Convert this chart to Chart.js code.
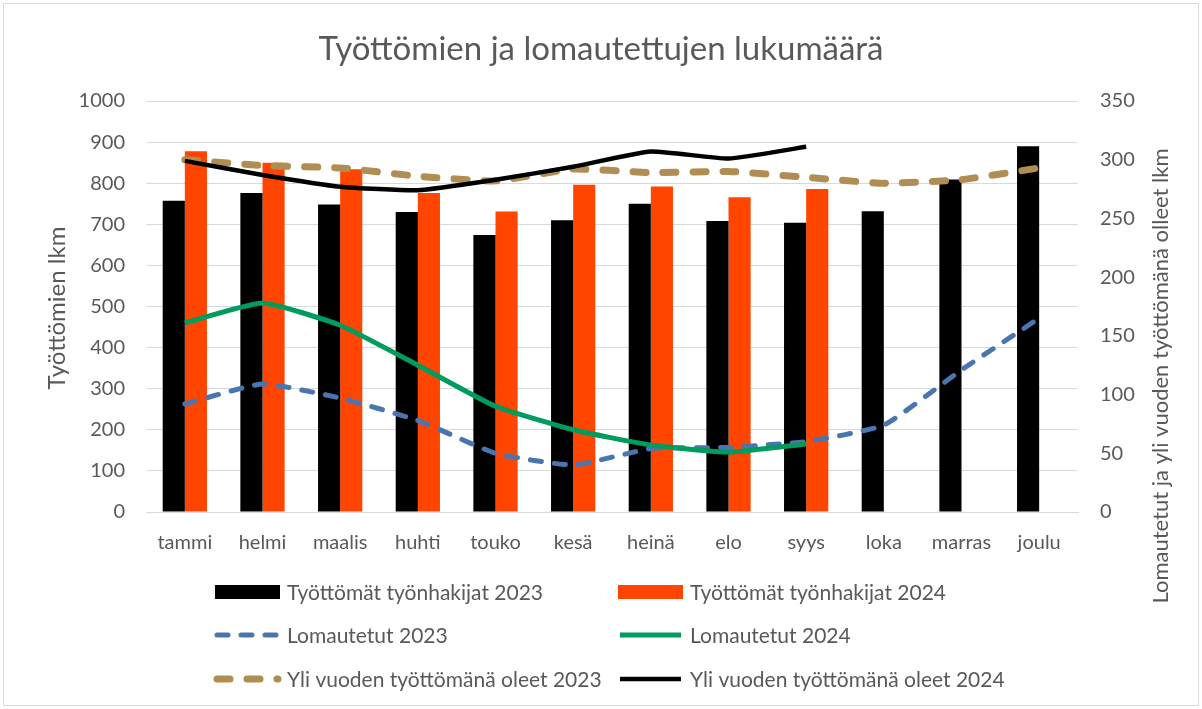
<!DOCTYPE html>
<html>
<head>
<meta charset="utf-8">
<script src="https://cdn.jsdelivr.net/npm/chart.js@4/dist/chart.umd.min.js"></script>
<style>
  html, body { margin: 0; padding: 0; background: #fff; }
  #wrap { width: 1202px; height: 709px; }
</style>
</head>
<body>
<div id="wrap"><canvas id="myChart" width="1202" height="709"></canvas></div>
<script>
// Kuukaudet ja sarjat (luettu kuvasta)
const months = ['tammi', 'helmi', 'maalis', 'huhti', 'touko', 'kesä', 'heinä', 'elo', 'syys', 'loka', 'marras', 'joulu'];
const tyottomat2023 = [757, 776, 748, 730, 674, 710, 750, 708, 704, 732, 809, 890];
const tyottomat2024 = [878, 850, 834, 776, 731, 796, 792, 766, 786, null, null, null];
const lomautetut2023 = [92, 109, 97, 78, 50, 40, 54, 55, 60, 74, 121, 165];
const lomautetut2024 = [161, 178, 159, 125, 90, 70, 57, 51, 58, null, null, null];
const yliVuoden2023 = [300, 295, 293, 286, 282, 292, 289, 290, 285, 280, 283, 293];
const yliVuoden2024 = [299, 287, 277, 274, 283, 294, 307, 301, 311, null, null, null];

const leftTicks = [0, 100, 200, 300, 400, 500, 600, 700, 800, 900, 1000];
const rightTicks = [0, 50, 100, 150, 200, 250, 300, 350];

const FONT = 'Lato, "Open Sans", sans-serif';
const GREY = '#595959';

// Otsikko, akselien otsikot, selite ja kehys piirretään itse
const decorations = {
    id: 'decorations',
    afterDraw(chart) {
        const ctx = chart.ctx;
        ctx.save();

        // kehys
        ctx.strokeStyle = '#d9d9d9';
        ctx.lineWidth = 1;
        ctx.strokeRect(3.5, 3.5, 1195, 702);

        ctx.fillStyle = GREY;
        ctx.textAlign = 'center';
        ctx.textBaseline = 'middle';
        ctx.font = '33px ' + FONT;
        ctx.fillText('Työttömien ja lomautettujen lukumäärä', 601, 49);

        ctx.font = '24px ' + FONT;
        ctx.save();
        ctx.translate(57, 308);
        ctx.rotate(-Math.PI / 2);
        ctx.fillText('Työttömien lkm', 0, 0);
        ctx.restore();

        ctx.font = '22px ' + FONT;
        ctx.save();
        ctx.translate(1161, 376);
        ctx.rotate(-Math.PI / 2);
        ctx.fillText('Lomautetut ja yli vuoden työttömänä olleet lkm', 0, 0);
        ctx.restore();

        // selite kahdessa sarakkeessa
        const colX = [215, 618];
        const rowY = [592, 635, 679];
        ctx.font = '21px ' + FONT;
        ctx.textAlign = 'left';
        chart.data.datasets.forEach((ds, i) => {
            const x = colX[i % 2];
            const y = rowY[Math.floor(i / 2)];
            if (ds.type === 'bar') {
                ctx.fillStyle = ds.backgroundColor;
                ctx.fillRect(x, y - 7, 65, 14);
            } else {
                ctx.strokeStyle = ds.borderColor;
                ctx.lineWidth = ds.borderWidth;
                ctx.lineCap = ds.borderCapStyle || 'butt';
                ctx.setLineDash(ds.borderDash || []);
                ctx.beginPath();
                ctx.moveTo(x + 2, y);
                ctx.lineTo(x + 63, y);
                ctx.stroke();
                ctx.setLineDash([]);
            }
            ctx.fillStyle = GREY;
            ctx.fillText(ds.label, x + 72, y + 1);
        });
        ctx.restore();
    }
};

const ctx = document.getElementById('myChart').getContext('2d');
const chart = new Chart(ctx, {
    data: {
        labels: months,
        datasets: [
            {
                type: 'bar',
                label: 'Työttömät työnhakijat 2023',
                data: tyottomat2023,
                backgroundColor: '#000000',
                yAxisID: 'y',
                order: 10,
            },
            {
                type: 'bar',
                label: 'Työttömät työnhakijat 2024',
                data: tyottomat2024,
                backgroundColor: '#ff4500',
                yAxisID: 'y',
                order: 10,
            },
            {
                type: 'line',
                label: 'Lomautetut 2023',
                data: lomautetut2023,
                borderColor: '#4a76b0',
                borderWidth: 5,
                borderDash: [11, 13],
                borderCapStyle: 'round',
                yAxisID: 'y1',
                order: 4,
            },
            {
                type: 'line',
                label: 'Lomautetut 2024',
                data: lomautetut2024,
                borderColor: '#009c5e',
                borderWidth: 5,
                yAxisID: 'y1',
                order: 3,
            },
            {
                type: 'line',
                label: 'Yli vuoden työttömänä oleet 2023',
                data: yliVuoden2023,
                borderColor: '#b08d52',
                borderWidth: 7,
                borderDash: [13, 17],
                borderCapStyle: 'round',
                yAxisID: 'y1',
                order: 2,
            },
            {
                type: 'line',
                label: 'Yli vuoden työttömänä oleet 2024',
                data: yliVuoden2024,
                borderColor: '#000000',
                borderWidth: 4.5,
                yAxisID: 'y1',
                order: 1,
            },
        ],
    },
    options: {
        responsive: false,
        animation: false,
        layout: {
            padding: { top: 101, left: 0, right: 0, bottom: 0 },
        },
        datasets: {
            bar: { categoryPercentage: 0.57, barPercentage: 1.0 },
            line: { pointRadius: 0, tension: 0.15, fill: false },
        },
        plugins: {
            legend: { display: false },
            title: { display: false },
            tooltip: { enabled: false },
        },
        scales: {
            x: {
                grid: { display: false, drawTicks: false },
                border: { display: true, color: '#d9d9d9' },
                ticks: { color: GREY, font: { family: FONT, size: 20 }, padding: 19 },
                afterFit: (scale) => { scale.height = 709 - 512; },
            },
            y: {
                position: 'left',
                min: 0,
                max: 1000,
                afterBuildTicks: (scale) => { scale.ticks = leftTicks.map(v => ({ value: v })); },
                grid: { color: '#d9d9d9', drawTicks: false },
                border: { display: false },
                ticks: {
                    color: GREY, font: { family: FONT, size: 20 }, padding: 21,
                    callback: (value) => String(value),
                },
                afterFit: (scale) => { scale.width = 146; },
            },
            y1: {
                position: 'right',
                min: 0,
                max: 350,
                afterBuildTicks: (scale) => { scale.ticks = rightTicks.map(v => ({ value: v })); },
                grid: { display: false, drawTicks: false },
                border: { display: false },
                ticks: {
                    color: GREY, font: { family: FONT, size: 20 }, padding: 22,
                    callback: (value) => String(value),
                },
                afterFit: (scale) => { scale.width = 1202 - 1078; },
            },
        },
    },
    plugins: [decorations],
});
</script>
</body>
</html>
